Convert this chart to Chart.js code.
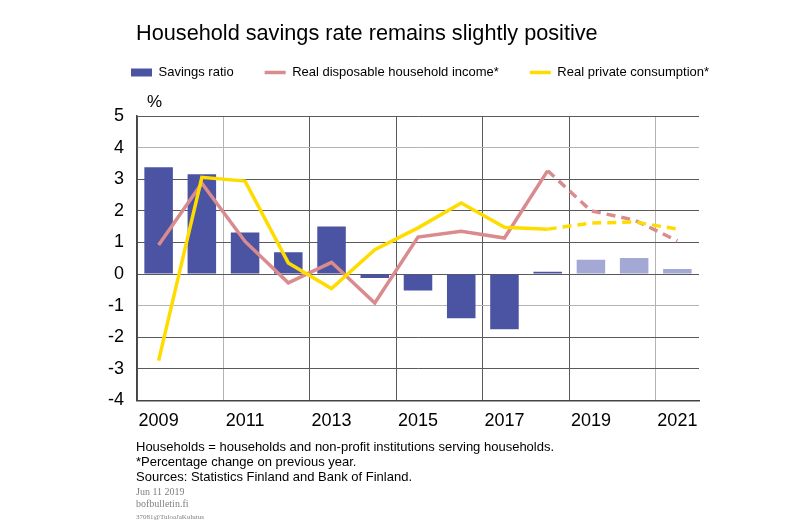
<!DOCTYPE html>
<html lang="en">
<head>
    <meta charset="UTF-8">
    <title>Household savings rate remains slightly positive</title>
    <script src="https://cdn.jsdelivr.net/npm/chart.js@4.4.0/dist/chart.umd.min.js"></script>
    <style>
        body {
            margin: 0;
            padding: 0;
            background: #ffffff;
            font-family: 'Liberation Sans', Arial, sans-serif;
        }
        #wrap {
            position: relative;
            width: 800px;
            height: 522px;
            overflow: hidden;
        }
        #chartBox {
            position: absolute;
            left: 0;
            top: 0;
            width: 800px;
            height: 522px;
        }
        .title {
            position: absolute;
            left: 136px;
            top: 20px;
            font-size: 21.7px;
            color: #000;
        }
        .unit {
            position: absolute;
            left: 147px;
            top: 92px;
            font-size: 17px;
        }
        .notes {
            position: absolute;
            left: 136px;
            top: 439px;
            font-size: 13px;
            line-height: 15px;
            color: #000;
        }
        .small {
            position: absolute;
            left: 136px;
            top: 486px;
            font-family: 'Liberation Serif', serif;
            color: #808080;
            font-size: 10px;
            line-height: 12px;
        }
        .tiny {
            font-size: 7px;
        }
    </style>
</head>
<body>
<div id="wrap">
    <div id="chartBox"><canvas id="savingsChart"></canvas></div>
    <div class="title">Household savings rate remains slightly positive</div>
    <div class="unit">%</div>
    <div class="notes">
        Households = households and non-profit institutions serving households.<br>
        *Percentage change on previous year.<br>
        Sources: Statistics Finland and Bank of Finland.
    </div>
    <div class="small">Jun 11 2019<br>bofbulletin.fi<br><span class="tiny">37081@TuloaJaKulutus</span></div>
</div>

<script>
    // years on the x axis
    const years = ['2009', '2010', '2011', '2012', '2013', '2014', '2015', '2016', '2017', '2018', '2019', '2020', '2021'];
    // savings ratio, %
    const savingsRatio = [3.38, 3.16, 1.31, 0.69, 1.50, -0.13, -0.52, -1.40, -1.75, 0.07, 0.45, 0.51, 0.16];
    // real disposable household income, % change
    const realIncome = [0.92, 2.87, 1.03, -0.28, 0.37, -0.92, 1.17, 1.35, 1.14, 3.27, 2.00, 1.71, 1.05];
    // real private consumption, % change
    const realConsumption = [-2.74, 3.06, 2.94, 0.35, -0.46, 0.77, 1.46, 2.25, 1.48, 1.42, 1.61, 1.65, 1.42];
    const yTicks = [-4, -3, -2, -1, 0, 1, 2, 3, 4, 5];
    const forecastFrom = 10; // 2019 onwards is forecast

    const dark = '#4b53a3';
    const light = '#a4a8d5';
    const gridDark = '#5a5a5a';
    const gridLight = '#b4b4b4';
    const font = 'Liberation Sans';

    const dashed = ctx => ctx.p1DataIndex >= forecastFrom ? [9, 6] : undefined;

    const ctx = document.getElementById('savingsChart').getContext('2d');
    new Chart(ctx, {
        type: 'bar',
        data: {
            labels: years,
            datasets: [{
                label: 'Savings ratio',
                data: savingsRatio,
                backgroundColor: c => c.dataIndex >= forecastFrom ? light : dark,
                borderWidth: 0,
                barPercentage: 0.66,
                categoryPercentage: 1,
                pointStyle: 'rect',
                order: 3
            }, {
                type: 'line',
                label: 'Real disposable household income*',
                data: realIncome,
                borderColor: '#d98b8d',
                backgroundColor: '#d98b8d',
                borderWidth: 3.5,
                pointRadius: 0,
                pointStyle: 'line',
                tension: 0,
                segment: { borderDash: dashed },
                order: 2
            }, {
                type: 'line',
                label: 'Real private consumption*',
                data: realConsumption,
                borderColor: '#ffdc00',
                backgroundColor: '#ffdc00',
                borderWidth: 3.5,
                pointRadius: 0,
                pointStyle: 'line',
                tension: 0,
                segment: { borderDash: dashed },
                order: 1
            }]
        },
        options: {
            responsive: true,
            maintainAspectRatio: false,
            animation: false,
            layout: {
                padding: { left: 100, right: 20, top: 35, bottom: 80 }
            },
            plugins: {
                tooltip: { enabled: false },
                legend: {
                    align: 'start',
                    labels: {
                        usePointStyle: true,
                        pointStyleWidth: 21,
                        boxHeight: 8,
                        padding: 31,
                        color: '#000',
                        font: { family: font, size: 13 },
                        sort: (a, b) => a.datasetIndex - b.datasetIndex
                    }
                }
            },
            scales: {
                x: {
                    grid: {
                        offset: true,
                        drawTicks: false,
                        lineWidth: 1,
                        color: c => {
                            if (c.index === 2 || c.index === 12) return gridLight;
                            if (c.index % 2 === 0 || c.index === years.length) return gridDark;
                            return 'rgba(0,0,0,0)';
                        }
                    },
                    border: { display: true, color: '#444', width: 1.5 },
                    ticks: {
                        autoSkip: false,
                        maxRotation: 0,
                        padding: 10,
                        color: '#000',
                        font: { family: font, size: 18 },
                        callback: (v, i) => i % 2 === 0 ? years[i] : ''
                    }
                },
                xTop: {
                    type: 'category',
                    position: 'top',
                    grid: { display: false },
                    border: { display: false },
                    ticks: { display: false },
                    afterFit: s => { s.height = 27; }
                },
                y: {
                    min: -4,
                    max: 5,
                    afterBuildTicks: s => { s.ticks = yTicks.map(v => ({ value: v })); },
                    afterFit: s => { s.width = 37; },
                    grid: {
                        drawTicks: false,
                        lineWidth: 1,
                        color: c => (c.tick.value === 4 || c.tick.value === -1) ? gridLight : gridDark
                    },
                    border: { display: true, color: '#444', width: 1.5 },
                    ticks: {
                        padding: 13,
                        color: '#000',
                        font: { family: font, size: 18 }
                    }
                },
                yRight: {
                    position: 'right',
                    min: -4,
                    max: 5,
                    grid: { display: false },
                    border: { display: false },
                    ticks: { display: false },
                    afterFit: s => { s.width = 81; }
                }
            }
        }
    });
</script>
</body>
</html>
